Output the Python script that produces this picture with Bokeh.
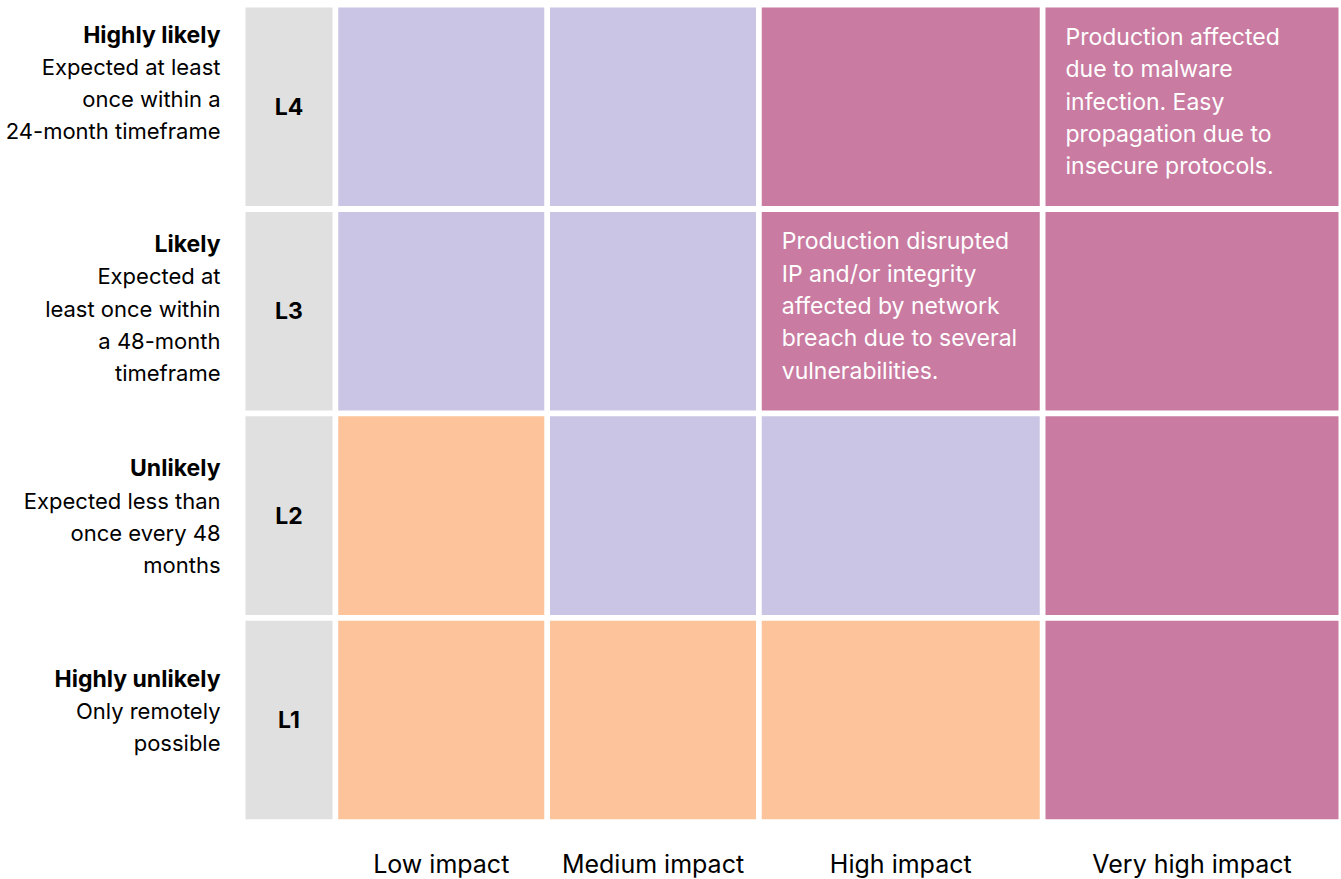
from bokeh.plotting import figure
from bokeh.models import Range1d, ColumnDataSource
from bokeh.core.properties import value
from bokeh.embed import file_html
from bokeh.resources import INLINE

# ---------------- data ----------------
likelihood_levels = ["L4", "L3", "L2", "L1"]
likelihood_titles = ["Highly likely", "Likely", "Unlikely", "Highly unlikely"]
likelihood_descriptions = [
    ["Expected at least", "once within a", "24-month timeframe"],
    ["Expected at", "least once within", "a 48-month", "timeframe"],
    ["Expected less than", "once every 48", "months"],
    ["Only remotely", "possible"],
]
impact_categories = ["Low impact", "Medium impact", "High impact", "Very high impact"]
risk_matrix = [
    ["Medium", "Medium", "High", "High"],      # L4
    ["Medium", "Medium", "High", "High"],      # L3
    ["Low", "Medium", "Medium", "High"],       # L2
    ["Low", "Low", "Low", "High"],             # L1
]
scenario_levels = ["L4", "L3"]
scenario_impacts = ["Very high impact", "High impact"]
scenario_texts = [
    ["Production affected", "due to malware", "infection. Easy",
     "propagation due to", "insecure protocols."],
    ["Production disrupted", "IP and/or integrity", "affected by network",
     "breach due to several", "vulnerabilities."],
]

# ---------------- styles / layout ----------------
RISK_COLORS = {"Low": "#FDC39A", "Medium": "#CAC4E5", "High": "#C97BA1"}
LEVEL_COLOR = "#E0E0E0"
FONT = "Inter"

W, H = 1341, 879
GRID_LEFT = 245
GRID_TOP = 7
LEVEL_COL_W = 87
COL_WIDTHS = [206, 206, 278, 293]
COL_GAP = 5.75
ROW_H = 198.6
ROW_GAP = 5.8
LABEL_RIGHT = 220
LABEL_TOP_OFFSETS = [27, 32, 52, 58]
LINE_STEP = 32.3
CELL_PAD_X = 20
CELL_PAD_Y = 29.5
BOTTOM_LABEL_Y = 863

# column edges
col_left, col_right = [], []
x = GRID_LEFT + LEVEL_COL_W + COL_GAP
for w in COL_WIDTHS:
    col_left.append(x)
    col_right.append(x + w)
    x += w + COL_GAP
row_top = [GRID_TOP + i * (ROW_H + ROW_GAP) for i in range(len(likelihood_levels))]
row_bottom = [t + ROW_H for t in row_top]

p = figure(width=W, height=H, output_backend="svg", toolbar_location=None,
           x_range=Range1d(0, W), y_range=Range1d(H, 0),
           min_border=0, outline_line_color=None, background_fill_color="white",
           border_fill_color="white")
p.axis.visible = False
p.grid.visible = False

# level column
p.quad(left=[GRID_LEFT] * len(likelihood_levels),
       right=[GRID_LEFT + LEVEL_COL_W] * len(likelihood_levels),
       top=row_top, bottom=row_bottom, fill_color=LEVEL_COLOR, line_color=None)
p.text(x=[GRID_LEFT + LEVEL_COL_W / 2] * len(likelihood_levels),
       y=[(t + b) / 2 for t, b in zip(row_top, row_bottom)],
       text=likelihood_levels, text_font=value(FONT), text_font_style="bold",
       text_font_size="23px", text_align="center", text_baseline="middle",
       text_color="#000000")

# risk cells
cl, cr, ct, cb, cc = [], [], [], [], []
for i, row in enumerate(risk_matrix):
    for j, risk in enumerate(row):
        cl.append(col_left[j]); cr.append(col_right[j])
        ct.append(row_top[i]); cb.append(row_bottom[i])
        cc.append(RISK_COLORS[risk])
p.quad(source=ColumnDataSource(dict(left=cl, right=cr, top=ct, bottom=cb, color=cc)),
       left="left", right="right", top="top", bottom="bottom",
       fill_color="color", line_color=None)

# scenario texts
sx, sy, st = [], [], []
for lvl, imp, lines in zip(scenario_levels, scenario_impacts, scenario_texts):
    i = likelihood_levels.index(lvl)
    j = impact_categories.index(imp)
    for k, line in enumerate(lines):
        sx.append(col_left[j] + CELL_PAD_X)
        sy.append(row_top[i] + CELL_PAD_Y + k * LINE_STEP)
        st.append(line)
p.text(x=sx, y=sy, text=st, text_font=value(FONT), text_font_size="23px",
       text_align="left", text_baseline="middle", text_color="white")

# likelihood labels
tx, ty, tt = [], [], []
dx, dy, dt = [], [], []
for i, (title, desc) in enumerate(zip(likelihood_titles, likelihood_descriptions)):
    y0 = row_top[i] + LABEL_TOP_OFFSETS[i]
    tx.append(LABEL_RIGHT); ty.append(y0); tt.append(title)
    for k, line in enumerate(desc):
        dx.append(LABEL_RIGHT); dy.append(y0 + (k + 1) * LINE_STEP); dt.append(line)
p.text(x=tx, y=ty, text=tt, text_font=value(FONT), text_font_style="bold",
       text_font_size="23px", text_align="right", text_baseline="middle",
       text_color="#000000")
p.text(x=dx, y=dy, text=dt, text_font=value(FONT), text_font_size="22px",
       text_align="right", text_baseline="middle", text_color="#000000")

# impact labels
p.text(x=[(l + r) / 2 for l, r in zip(col_left, col_right)],
       y=[BOTTOM_LABEL_Y] * len(impact_categories), text=impact_categories,
       text_font=value(FONT), text_font_size="25px", text_align="center",
       text_baseline="middle", text_color="#000000")

open("out.html", "w").write(file_html(p, INLINE))
